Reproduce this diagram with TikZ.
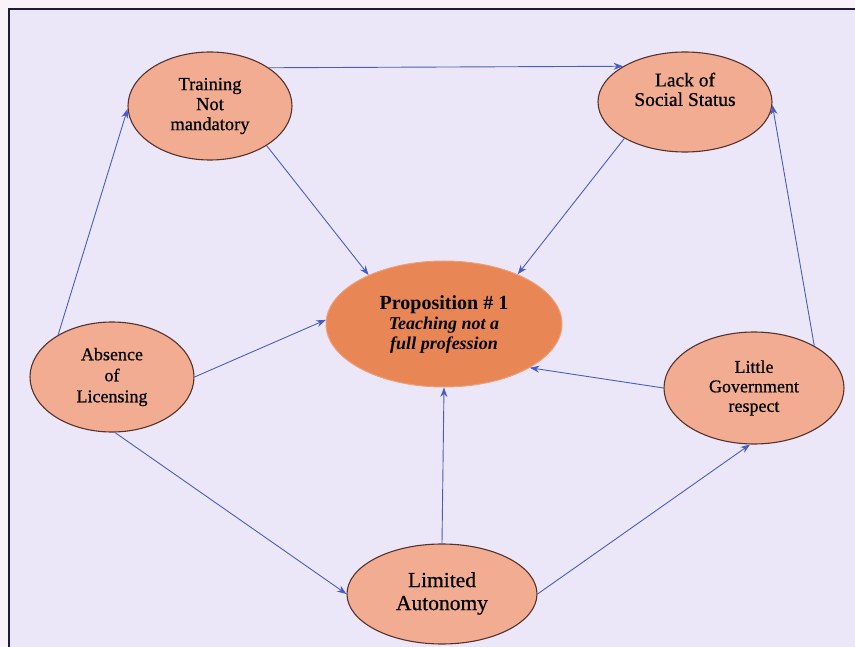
\documentclass[tikz,border=0pt]{standalone}
\usepackage{fontspec}
\setmainfont{Liberation Serif}
\newfontfamily\labelfont{Liberation Serif}[FakeBold=0.6]
\usetikzlibrary{shapes.geometric,arrows.meta}

\definecolor{pagebg}{RGB}{248,243,248}
\definecolor{panel}{RGB}{236,231,248}
\definecolor{salmon}{RGB}{241,172,145}
\definecolor{core}{RGB}{232,134,86}
\definecolor{corerim}{RGB}{238,160,120}
\definecolor{rim}{RGB}{85,50,45}
\definecolor{linkc}{RGB}{72,92,200}
\definecolor{framec}{RGB}{30,30,45}

\begin{document}
\begin{tikzpicture}[x=1pt,y=1pt,
  idea/.style={ellipse, draw=rim, line width=1.1pt, fill=salmon,
    inner sep=0pt, align=center, text=black},
  link/.style={draw=linkc, line width=0.9pt,
    -{Stealth[length=9.5pt,width=7pt]}}]

% page, panel and its frame
\useasboundingbox (0,0) rectangle (855,-647);
\fill[pagebg] (0,0) rectangle (855,-647);
\fill[panel] (9,-9) rectangle (855,-647);
\draw[framec, line width=2pt] (9,-647) -- (9,-9) -- (855,-9);

% factors
\node[idea, minimum width=164pt, minimum height=108pt,
  font=\labelfont\fontsize{18.5}{20}\selectfont] (train) at (210,-106)
  {Training\\Not\\mandatory};
\node[idea, minimum width=174pt, minimum height=100pt,
  font=\labelfont\fontsize{19.5}{19.5}\selectfont] (lack) at (685,-102)
  {Lack of\\Social Status\\\strut};
\node[idea, minimum width=164pt, minimum height=110pt,
  font=\labelfont\fontsize{18}{21}\selectfont] (absence) at (112,-377)
  {Absence\\of\\Licensing};
\node[idea, minimum width=180pt, minimum height=112pt,
  font=\labelfont\fontsize{18}{19.5}\selectfont] (little) at (754,-388)
  {Little\\Government\\respect};
\node[idea, minimum width=190pt, minimum height=100pt,
  font=\labelfont\fontsize{21.5}{23}\selectfont] (limited) at (442,-594)
  {\raisebox{3pt}{\begin{tabular}{@{}c@{}}Limited\\[0pt]Autonomy\end{tabular}}};

% central proposition
\node[ellipse, fill=core, draw=corerim, line width=1pt, inner sep=0pt,
  minimum width=236pt, minimum height=126pt, align=center,
  font=\fontsize{18}{20}\selectfont\bfseries] (prop) at (444,-324)
  {{\fontsize{20}{20}\selectfont Proposition \# 1}\\
   \textit{Teaching not a}\\\textit{full profession}};

% influences
\draw[link] (train.33) -- (lack.150);
\draw[link] (train.-35) -- (prop.147);
\draw[link] (lack.211) -- (prop.34);
\draw[link] (absence.142) -- (train.182);
\draw[link] (absence.0) -- (prop.178);
\draw[link] (little.35) -- (lack.-2);
\draw[link] (little.180) -- (prop.-27);
\draw[link] (absence.-87) -- (limited.180);
\draw[link] (limited.90) -- (prop.-90);
\draw[link] (limited.0) -- (little.-94);
\end{tikzpicture}
\end{document}
